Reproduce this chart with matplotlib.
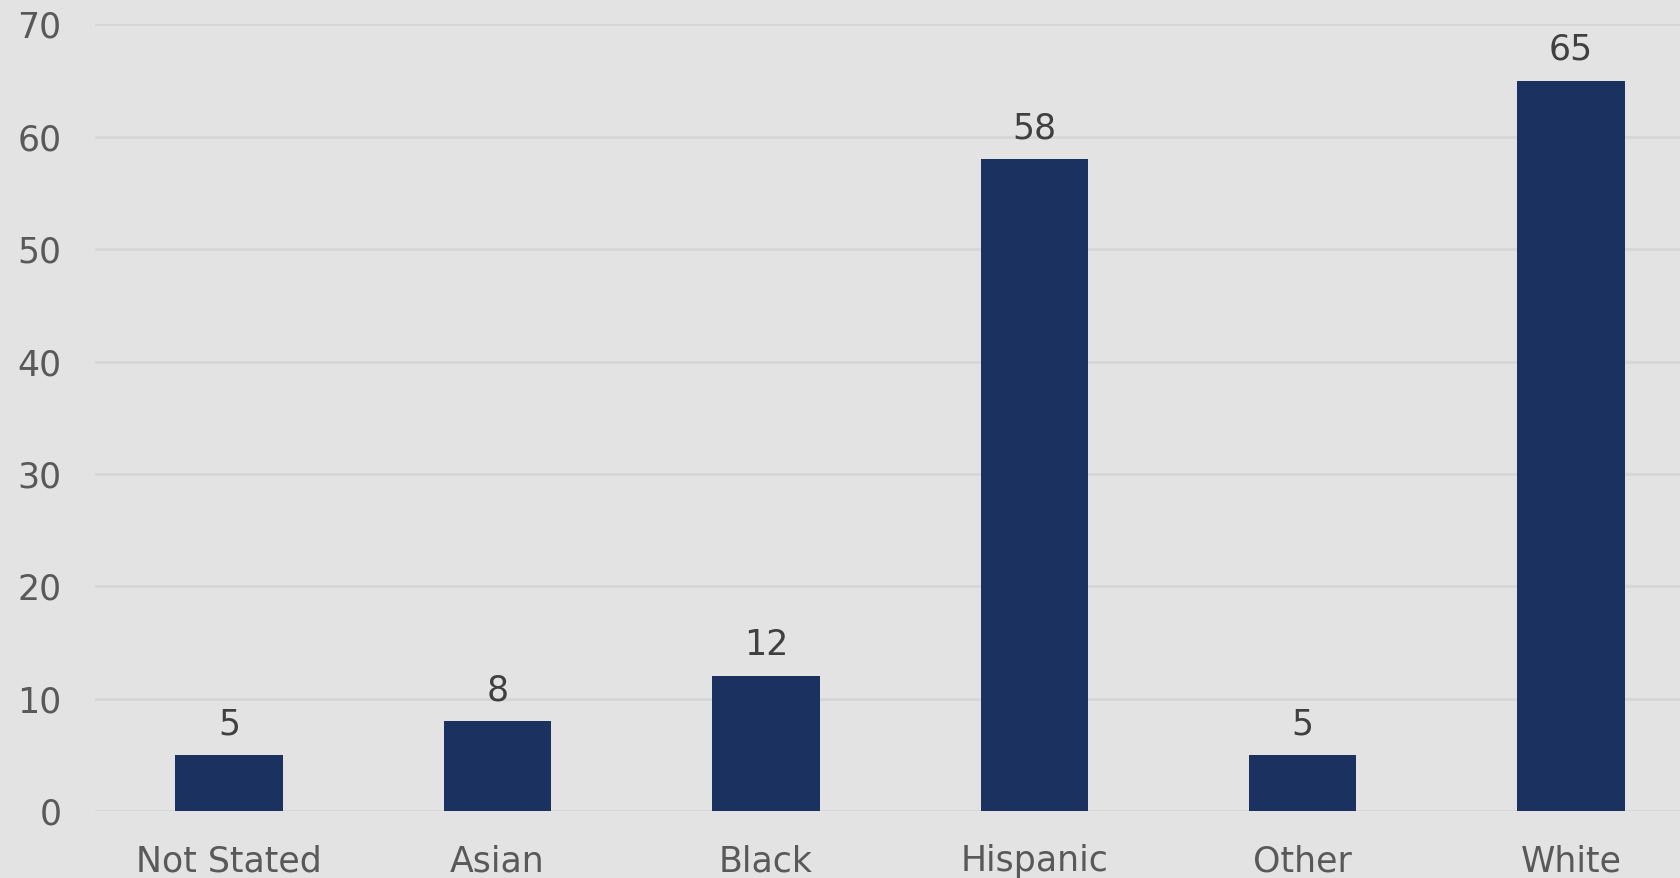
import matplotlib.pyplot as plt

# data
categories = ["Not Stated", "Asian", "Black", "Hispanic", "Other", "White"]
counts = [5, 8, 12, 58, 5, 65]
y_ticks = [0, 10, 20, 30, 40, 50, 60, 70]

bg = "#E3E3E3"
bar_color = "#1B3160"

plt.rcParams['font.family'] = ['DejaVu Sans']

fig = plt.figure(figsize=(16.81, 8.781), dpi=100, facecolor=bg)
# plot area runs past the right edge (chart is cropped in the reference)
ax = fig.add_axes([0.0565, 0.0763, 0.9578, 0.8958])
ax.set_facecolor(bg)

x = range(len(categories))
bars = ax.bar(x, counts, width=0.4, color=bar_color, zorder=3)

for b, v in zip(bars, counts):
    ax.annotate(str(v), (b.get_x() + b.get_width() / 2, v),
                xytext=(0, 10), textcoords="offset points",
                ha="center", va="bottom", fontsize=25, color="#404040")

ax.set_xlim(-0.5, len(categories) - 0.5)
ax.set_ylim(0, 70)
ax.set_yticks(y_ticks)
ax.set_xticks(list(x))
ax.set_xticklabels(categories)
ax.yaxis.grid(True, color="#D6D6D6", linewidth=2, zorder=0)
ax.set_axisbelow(True)

for s in ax.spines.values():
    s.set_visible(False)
ax.tick_params(axis="both", length=0, labelsize=25, labelcolor="#595959")
ax.tick_params(axis="y", pad=24)
ax.tick_params(axis="x", pad=24)

fig.savefig("out.png", dpi=100, facecolor=bg)
